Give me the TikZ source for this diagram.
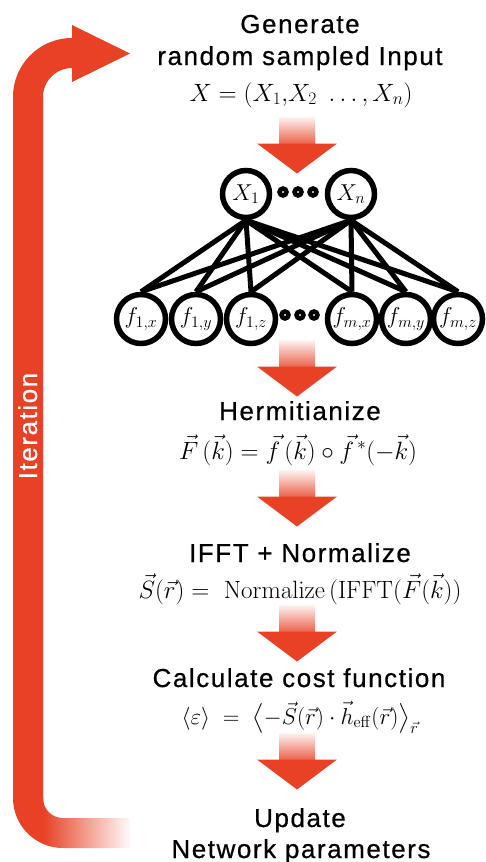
\documentclass[tikz,border=0pt]{standalone}
\usepackage{fix-cm}
\usepackage[no-math]{fontspec}
\usepackage{amsmath}
\usetikzlibrary{backgrounds}
\newfontfamily\labelfont[LetterSpace=6, FakeBold=0.6]{Liberation Sans}
\definecolor{flowred}{RGB}{231,65,38}

\tikzset{
  steptext/.style={font=\labelfont\fontsize{26}{30}\selectfont, anchor=base, inner sep=0pt},
  formula/.style={font=\fontsize{25}{30}\selectfont, anchor=base, inner sep=0pt},
  neuron/.style={circle, draw=black, line width=5.5pt, fill=white, minimum size=49pt,
    inner sep=0pt, font=\fontsize{23}{26}\selectfont},
  topneuron/.style={neuron, minimum size=47pt},
  ellipsisdot/.style={circle, draw=black, line width=4.5pt, fill=white,
    minimum size=7pt, inner sep=0pt},
  link/.style={line width=5pt},
  flowdown/.pic={
    \shade[top color=flowred!6, bottom color=flowred!85] (-18,0) rectangle (18,-27.5);
    \fill[flowred] (-40,-26.5) -- (40,-26.5) -- (0,-56.5) -- cycle;
  }
}

\begin{document}
\begin{tikzpicture}[x=1pt,y=1pt]
\useasboundingbox (0,0) rectangle (486,-862);

% iteration loop on the left
\draw[flowred, line width=30pt] (28,-800) -- (28,-97)
  arc[start angle=180, end angle=90, radius=44] -- (73,-53);
\fill[flowred] (72,-25) -- (130,-53.5) -- (72,-82) -- cycle;
\begin{scope}
  \clip (13,-798) arc[start angle=180, end angle=270, radius=50] -- (130,-848)
    -- (130,-818) -- (63,-818) arc[start angle=270, end angle=180, radius=20] -- cycle;
  \fill[flowred] (0,-790) rectangle (44,-862);
  \shade[left color=flowred, right color=white] (43,-790) rectangle (132,-862);
\end{scope}
\node[steptext, rotate=90, text=white] (iter) at (37,-426) {Iteration};

% step labels and formulas
\node[steptext] (gen1) at (300,-33) {Generate};
\node[steptext] (gen2) at (300,-65) {random sampled Input};
\node[formula] (xin) at (301,-101) {$X = (X_1{,}X_2\ \ldots,X_n)$};

\node[steptext] (herm) at (300,-420) {Hermitianize};
\node[formula] (hermeq) at (298,-459)
  {$\vec{F}\,(\vec{k}) = \vec{f}\,(\vec{k})\circ\vec{f}^{\,*}(-\vec{k})$};

\node[steptext] (ifft) at (300,-562) {IFFT + Normalize};
\node[formula] (iffteq) at (300,-598)
  {$\vec{S}(\vec{r}) =\ \mathrm{Normalize}\,(\mathrm{IFFT}(\vec{F}(\vec{k}))$};

\node[steptext] (cost) at (299,-687) {Calculate cost function};
\node[formula, font=\fontsize{23}{28}\selectfont] (costeq) at (300,-724)
  {$\langle\varepsilon\rangle\;=\;\bigl\langle -\vec{S}(\vec{r})\cdot\vec{h}_{\mathrm{eff}}(\vec{r})\bigr\rangle_{\vec{r}}$};

\node[steptext] (upd1) at (300,-827) {Update};
\node[steptext] (upd2) at (301,-858) {Network parameters};

% block arrows between the steps
\pic (a1) at (297,-117) {flowdown};
\pic (a2) at (297,-340) {flowdown};
\pic (a3) at (297,-470) {flowdown};
\pic (a4) at (297,-605) {flowdown};
\pic (a5) at (297,-733) {flowdown};

% network: inputs
\node[topneuron] (x1) at (246,-194) {$X_1$};
\node[topneuron] (xn) at (351,-194) {$X_n$};
\node[ellipsisdot] (td1) at (283,-192) {};
\node[ellipsisdot] (td2) at (298,-192) {};
\node[ellipsisdot] (td3) at (313,-192) {};

% network: outputs
\node[neuron] (f1x) at (141,-319) {$f_{1,x}$};
\node[neuron] (f1y) at (196,-319) {$f_{1,y}$};
\node[neuron] (f1z) at (251,-319) {$f_{1,z}$};
\node[ellipsisdot] (bd1) at (285,-315) {};
\node[ellipsisdot] (bd2) at (300,-315) {};
\node[ellipsisdot] (bd3) at (314,-315) {};
\node[neuron] (fmx) at (352,-319) {$f_{m,x}$};
\node[neuron] (fmy) at (406,-319) {$f_{m,y}$};
\node[neuron] (fmz) at (458,-319) {$f_{m,z}$};

\begin{pgfonlayer}{background}
  \foreach \src in {x1,xn}
    \foreach \dst in {f1x,f1y,f1z,fmx,fmy,fmz}
      \draw[link] (\src.south) -- (\dst.north);
\end{pgfonlayer}
\end{tikzpicture}
\end{document}
